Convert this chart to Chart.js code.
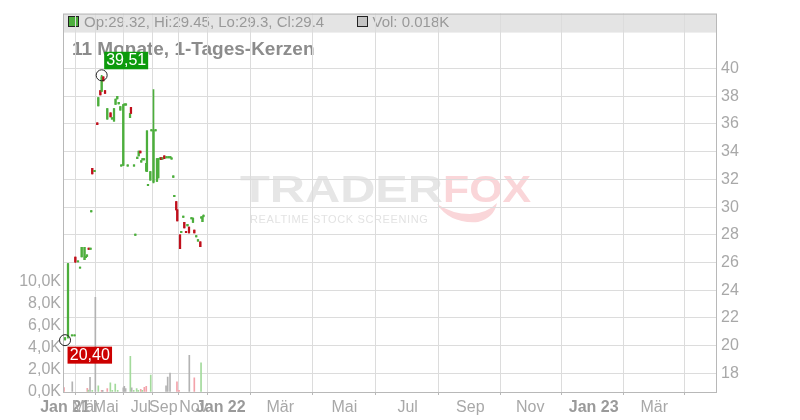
<!DOCTYPE html>
<html>
<head>
<meta charset="utf-8">
<script src="https://cdn.jsdelivr.net/npm/chart.js@4.4.1/dist/chart.umd.min.js"></script>
<style>
  html, body { margin: 0; padding: 0; background: #fff; }
  #chart { display: block; }
</style>
</head>
<body>
<canvas id="chart" width="800" height="420"></canvas>
<script>
// x is a position on the time axis (trading sessions compressed, future in days)
const candleDays = [2.0, 4.9, 8.8, 11.3, 12.1, 14.7, 16.7, 18.3, 21.1, 22.3, 23.5, 25.2, 27.0, 27.7, 28.7, 30.9,
  33.6, 34.6, 36.6, 37.9, 39.5, 41.2, 43.4, 46.6, 48.0, 50.0, 51.5, 53.2, 54.6, 56.2, 57.1, 59.1, 60.3, 61.7,
  63.4, 65.7, 66.6, 69.6, 70.9, 72.8, 74.2, 75.8, 76.7, 77.9, 79.4, 81.6, 82.3, 83.3, 85.6, 86.7, 88.7, 90.7,
  92.1, 93.4, 95.1, 96.3, 97.5, 99.3, 101.4, 103.4, 105.2, 106.4, 108.1, 109.1, 111.0, 112.0, 114.7, 115.9,
  117.9, 118.9, 120.6, 122.0, 123.5, 125.9, 127.4, 128.7, 130.6, 132.3, 134.6, 135.5, 136.7, 137.7];

const opens = [20.45, 20.6, 20.7, 20.7, 26.4, 26.05, 25.6, 26.4, 26.2, 26.35, 26.45, 27.05, 26.95, 29.65, 32.8, 32.55,
  36.08, 37.3, 38.4, 38.35, 39.4, 38.4, 36.35, 36.8, 36.35, 36.2, 37.4, 37.8, 37.45, 37.0, 32.95, 33.0, 37.35, 37.35,
  32.95, 36.45, 37.2, 32.95, 27.95, 33.5, 33.7, 34.05, 33.25, 33.4, 33.4, 32.6, 32.57, 31.55, 31.94, 35.5, 31.8, 35.5,
  31.85, 32.1, 33.45, 33.57, 33.45, 33.7, 33.55, 33.55, 33.55, 33.45, 32.15, 30.75, 30.4, 29.8, 28.0, 28.15,
  29.25, 28.9, 28.25, 28.65, 28.55, 29.15, 28.9, 28.35, 27.85, 27.55, 27.5, 29.2, 28.95, 29.32];

const highs = [20.6, 25.95, 20.78, 20.78, 26.4, 26.12, 25.68, 27.1, 27.1, 26.45, 26.55, 27.05, 27.05, 29.75, 32.8, 32.65,
  36.08, 37.9, 38.4, 39.51, 39.4, 38.4, 37.1, 36.8, 36.45, 37.1, 37.8, 38.0, 37.55, 37.25, 33.05, 37.4, 37.45, 37.45,
  33.05, 36.75, 37.2, 33.05, 28.05, 33.6, 34.05, 34.05, 33.35, 33.5, 33.5, 33.15, 35.5, 31.65, 32.57, 35.6, 38.47, 35.6,
  33.5, 33.5, 33.55, 33.57, 33.55, 33.7, 33.65, 33.65, 33.65, 33.55, 32.25, 30.85, 30.4, 29.8, 28.0, 28.25,
  29.35, 28.9, 28.25, 28.75, 28.55, 29.25, 29.2, 28.35, 27.95, 27.65, 27.5, 29.3, 29.3, 29.45];

const lows = [20.40, 20.55, 20.7, 20.7, 26.0, 26.05, 25.6, 26.4, 26.2, 26.35, 26.45, 26.95, 26.95, 29.65, 32.4, 32.55,
  35.95, 37.3, 38.1, 38.35, 39.1, 38.2, 36.35, 36.5, 36.35, 36.2, 37.4, 37.8, 37.45, 37.0, 32.95, 33.0, 37.35, 37.35,
  32.95, 36.45, 36.75, 32.95, 27.95, 33.5, 33.7, 33.9, 33.25, 33.4, 33.4, 32.6, 32.57, 31.55, 31.94, 35.5, 31.75, 35.5,
  31.85, 32.1, 33.45, 33.43, 33.45, 33.5, 33.55, 33.55, 33.55, 33.45, 32.15, 30.75, 29.8, 29.0, 27.0, 28.15,
  29.25, 28.5, 28.15, 28.65, 28.14, 29.15, 28.9, 28.14, 27.85, 27.55, 27.14, 29.2, 28.95, 29.3];

const closes = [20.55, 25.9, 20.78, 20.78, 26.05, 26.12, 25.68, 27.1, 27.1, 26.45, 26.55, 26.95, 27.05, 29.75, 32.4, 32.65,
  35.95, 37.9, 38.1, 39.4, 39.1, 38.2, 37.1, 36.5, 36.45, 37.1, 37.8, 38.0, 37.55, 37.25, 33.05, 37.4, 37.45, 37.45,
  33.05, 36.75, 36.75, 33.05, 28.05, 33.6, 34.05, 33.9, 33.35, 33.5, 33.5, 33.15, 35.5, 31.65, 32.57, 35.6, 35.55, 35.6,
  33.5, 33.5, 33.55, 33.43, 33.55, 33.5, 33.65, 33.65, 33.65, 33.55, 32.25, 30.85, 29.8, 29.0, 27.0, 28.25,
  29.35, 28.5, 28.15, 28.75, 28.14, 29.25, 29.2, 28.14, 27.95, 27.65, 27.14, 29.3, 29.3, 29.4];

const volDays = [1.0, 9.1, 23.8, 24.8, 26.5, 28.7, 31.7, 34.6, 37.9, 38.9, 43.4, 46.4, 48.3, 51.2, 53.6, 59.1, 60.1, 61.4,
  66.0, 67.3, 69.3, 72.2, 73.8, 76.2, 77.7, 79.7, 81.6, 86.0, 101.0, 102.6, 104.9, 111.7, 113.7, 123.8, 128.7, 135.3];
const volValues = [390, 930, 330, 180, 1320, 150, 8580, 570, 150, 150, 300, 840, 150, 720, 150, 380, 510, 300,
  3240, 380, 150, 300, 150, 240, 150, 420, 510, 1530, 570, 1350, 1710, 930, 150, 3330, 1290, 2640];
// 1 = up day, -1 = down day, 0 = unchanged
const volDir = [-1, 0, -1, 1, 0, 1, 0, 1, -1, 0, -1, 1, 1, 1, 1, 0, 0, 0,
  1, 0, 1, 1, 1, -1, 1, -1, -1, 1, 0, 0, 0, -1, -1, 0, -1, 1];
const lastVolume = 18;

const tickPos = [2.0, 22.2, 41.9, 76.4, 98.3, 127.9, 154.6, 213.0, 275.7, 337.8, 399.2, 458.0, 520.1, 579.5];
const tickLabels = ["Jan 21", "Mär", "Mai", "Jul", "Sep", "Nov", "Jan 22", "Mär", "Mai", "Jul", "Sep", "Nov", "Jan 23", "Mär"];
const priceTicks = [18, 20, 22, 24, 26, 28, 30, 32, 34, 36, 38, 40];
const volTicks = [0, 2000, 4000, 6000, 8000, 10000];

const titleText = "11 Monate, 1-Tages-Kerzen";

const UP = "#4cae3c";
const DOWN = "#c0101c";
const FONT = '"Liberation Sans", Arial, sans-serif';

const candleColors = opens.map((o, i) => (closes[i] >= o ? UP : DOWN));
const volColors = volDir.map((d) => (d > 0 ? "#a3da9c" : d < 0 ? "#f3a2aa" : "#b3b3b3"));

function fmtComma(v) {
  return v.toFixed(2).replace(".", ",");
}

const decor = {
  id: "decor",
  beforeDraw(chart) {
    const ctx = chart.ctx;
    const a = chart.chartArea;
    ctx.save();
    // header band
    ctx.fillStyle = "#e4e4e4";
    ctx.fillRect(a.left, a.top, a.right - a.left, 19);

    const n = opens.length - 1;
    ctx.font = "15px " + FONT;
    ctx.textBaseline = "alphabetic";
    ctx.fillStyle = "#999";
    ctx.fillText(`Op:${opens[n]}, Hi:${highs[n]}, Lo:${lows[n]}, Cl:${closes[n]}`, 84, 26.5);
    ctx.fillText(`Vol: ${(lastVolume / 1000).toFixed(3)}K`, 372.5, 26.5);

    ctx.fillStyle = UP;
    ctx.fillRect(68.5, 16.5, 10, 10);
    ctx.strokeStyle = "#222";
    ctx.lineWidth = 1;
    ctx.strokeRect(68.5, 16.5, 10, 10);
    ctx.fillStyle = "#c4c4c4";
    ctx.fillRect(357.5, 16.5, 10, 10);
    ctx.strokeRect(357.5, 16.5, 10, 10);

    // title
    ctx.font = "bold 19px " + FONT;
    ctx.fillStyle = "#8c8c8c";
    ctx.fillText(titleText, 72, 54.5);

    // watermark
    ctx.font = "bold 36px " + FONT;
    let w = ctx.measureText("TRADER").width;
    ctx.save();
    ctx.translate(240, 202);
    ctx.scale(203 / w, 1);
    ctx.fillStyle = "#e6e6e6";
    ctx.fillText("TRADER", 0, 0);
    ctx.restore();
    w = ctx.measureText("FOX").width;
    ctx.save();
    ctx.translate(443, 202);
    ctx.scale(88 / w, 1);
    ctx.fillStyle = "#fad6d9";
    ctx.fillText("FOX", 0, 0);
    ctx.restore();
    ctx.fillStyle = "#fad6d9";
    ctx.beginPath();
    ctx.moveTo(437, 204);
    ctx.quadraticCurveTo(450, 224, 478, 222);
    ctx.quadraticCurveTo(494, 218, 497, 203);
    ctx.quadraticCurveTo(486, 214, 470, 214);
    ctx.quadraticCurveTo(452, 214, 437, 204);
    ctx.fill();
    ctx.font = "11px " + FONT;
    ctx.fillStyle = "#e3e3e3";
    const tag = "REALTIME STOCK SCREENING";
    const tw = ctx.measureText(tag).width;
    ctx.letterSpacing = Math.max(0, (178 - tw) / (tag.length - 1)).toFixed(2) + "px";
    ctx.fillText(tag, 250, 223);
    ctx.restore();
  },
  afterDraw(chart) {
    const ctx = chart.ctx;
    const a = chart.chartArea;
    const xs = chart.scales.x;
    const ys = chart.scales.y;
    ctx.save();
    ctx.strokeStyle = "#b8b8b8";
    ctx.lineWidth = 1;
    ctx.strokeRect(a.left + 0.5, a.top + 0.5, a.right - a.left - 1, a.bottom - a.top);

    const hiVal = Math.max(...highs);
    const loVal = Math.min(...lows);
    const hiIdx = highs.indexOf(hiVal);
    const loIdx = lows.indexOf(loVal);
    const hx = xs.getPixelForValue(candleDays[hiIdx]);
    const hy = ys.getPixelForValue(hiVal);
    const lx = xs.getPixelForValue(candleDays[loIdx]);
    const ly = ys.getPixelForValue(loVal);

    ctx.font = "16px " + FONT;
    ctx.textAlign = "center";
    ctx.textBaseline = "middle";

    ctx.fillStyle = "#0c9a0c";
    ctx.fillRect(hx + 2.5, hy - 23.5, 44, 17.5);
    ctx.fillStyle = "#fff";
    ctx.fillText(fmtComma(hiVal), hx + 24.5, hy - 14.5);

    ctx.fillStyle = "#cc0000";
    ctx.fillRect(lx + 2.5, ly + 6.5, 44.5, 17);
    ctx.fillStyle = "#fff";
    ctx.fillText(fmtComma(loVal), lx + 24.8, ly + 15.2);

    ctx.strokeStyle = "#222";
    ctx.beginPath();
    ctx.arc(hx, hy, 5.5, 0, Math.PI * 2);
    ctx.stroke();
    ctx.beginPath();
    ctx.arc(lx, ly, 5.5, 0, Math.PI * 2);
    ctx.stroke();
    ctx.restore();
  }
};

new Chart(document.getElementById("chart"), {
  type: "bar",
  data: {
    datasets: [
      {
        label: "Volumen",
        yAxisID: "yv",
        data: volDays.map((d, i) => ({ x: d, y: volValues[i] })),
        backgroundColor: volColors,
        barThickness: 1,
        grouped: false,
        order: 3
      },
      {
        label: "Docht",
        yAxisID: "y",
        data: candleDays.map((d, i) => ({ x: d, y: [lows[i], highs[i]] })),
        backgroundColor: candleColors,
        barThickness: 1,
        grouped: false,
        order: 2
      },
      {
        label: "Kerze",
        yAxisID: "y",
        data: candleDays.map((d, i) => ({ x: d, y: [opens[i], closes[i]] })),
        backgroundColor: candleColors,
        barThickness: 1.6,
        grouped: false,
        order: 1
      }
    ]
  },
  options: {
    responsive: false,
    animation: false,
    devicePixelRatio: 1,
    layout: { padding: { top: 11, left: 0, right: 0, bottom: 0 } },
    plugins: {
      legend: { display: false },
      tooltip: { enabled: false }
    },
    scales: {
      x: {
        type: "linear",
        min: 0,
        max: 641,
        offset: false,
        afterBuildTicks: (scale) => {
          scale.ticks = tickPos.map((v) => ({ value: v }));
        },
        afterFit: (scale) => {
          scale.height = 28;
        },
        grid: { color: "#dcdcdc", tickColor: "#b8b8b8", tickLength: 3 },
        border: { display: false },
        ticks: {
          autoSkip: false,
          maxRotation: 0,
          minRotation: 0,
          padding: 3,
          callback: (v, i) => tickLabels[i],
          color: (c) => (tickLabels[c.index] && tickLabels[c.index].startsWith("Jan") ? "#9a9a9a" : "#a8a8a8"),
          font: (c) => ({
            family: FONT,
            size: 16,
            weight: tickLabels[c.index] && tickLabels[c.index].startsWith("Jan") ? "bold" : "normal"
          })
        }
      },
      y: {
        position: "right",
        min: 16.66,
        max: 43.96,
        afterBuildTicks: (scale) => {
          scale.ticks = priceTicks.map((v) => ({ value: v }));
        },
        afterFit: (scale) => {
          scale.width = 83;
        },
        grid: { color: "#dcdcdc", drawTicks: false },
        border: { display: false },
        ticks: {
          padding: 4,
          color: "#a8a8a8",
          font: { family: FONT, size: 16 },
          callback: (v) => String(v)
        }
      },
      yv: {
        position: "left",
        min: 0,
        max: 34320,
        afterBuildTicks: (scale) => {
          scale.ticks = volTicks.map((v) => ({ value: v }));
        },
        afterFit: (scale) => {
          scale.width = 63;
        },
        grid: { drawOnChartArea: false, drawTicks: false },
        border: { display: false },
        ticks: {
          padding: 2,
          color: "#a8a8a8",
          font: { family: FONT, size: 16 },
          callback: (v) => (v / 1000).toFixed(1).replace(".", ",") + "K"
        }
      }
    }
  },
  plugins: [decor]
});
</script>
</body>
</html>
